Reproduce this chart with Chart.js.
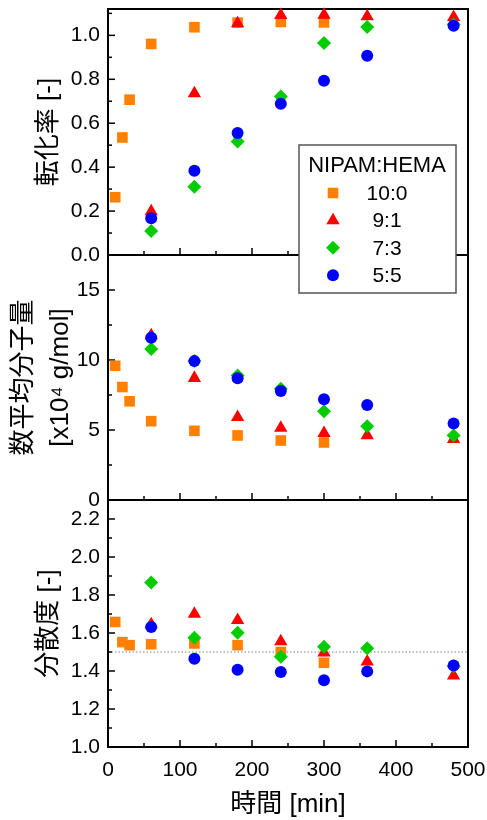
<!DOCTYPE html>
<html>
<head>
<meta charset="utf-8">
<script src="https://cdn.jsdelivr.net/npm/chart.js@4/dist/chart.umd.min.js"></script>
<style>
  html, body { margin: 0; padding: 0; background: #fff; }
  #wrap { width: 487px; height: 820px; }
</style>
</head>
<body>
<div id="wrap"><canvas id="chart-polymer" width="487" height="820"></canvas></div>
<script>
// Conversion / Mn / dispersity vs time, three stacked panels sharing the time axis
const times = [10, 20, 30, 60, 120, 180, 240, 300, 360, 480];
const seriesLabels = ['10:0', '9:1', '7:3', '5:5'];

// 転化率 [-]
const conv10_0 = [0.263, 0.535, 0.707, 0.961, 1.037, 1.058, 1.061, 1.059, null, null];
const conv9_1 = [null, null, null, 0.198, 0.736, 1.054, 1.092, 1.093, 1.086, 1.083];
const conv7_3 = [null, null, null, 0.109, 0.311, 0.517, 0.722, 0.965, 1.038, 1.05];
const conv5_5 = [null, null, null, 0.167, 0.384, 0.555, 0.689, 0.793, 0.907, 1.044];

// 数平均分子量 [x10^4 g/mol]
const mn10_0 = [9.59, 8.07, 7.05, 5.63, 4.94, 4.61, 4.25, 4.11, null, null];
const mn9_1 = [null, null, null, 11.75, 8.71, 5.92, 5.15, 4.77, 4.61, 4.35];
const mn7_3 = [null, null, null, 10.78, 9.92, 8.9, 7.95, 6.34, 5.27, 4.61];
const mn5_5 = [null, null, null, 11.59, 9.92, 8.69, 7.79, 7.19, 6.79, 5.46];

// 分散度 [-]
const pdi10_0 = [1.658, 1.552, 1.536, 1.541, 1.545, 1.536, 1.50, 1.443, null, null];
const pdi9_1 = [null, null, null, 1.645, 1.700, 1.668, 1.556, 1.496, 1.449, 1.375];
const pdi7_3 = [null, null, null, 1.866, 1.575, 1.601, 1.475, 1.527, 1.520, 1.425];
const pdi5_5 = [null, null, null, 1.631, 1.464, 1.407, 1.395, 1.351, 1.398, 1.429];

const refDispersity = 1.5;

const COLORS = ['#ff8000', '#ff0000', '#00cc00', '#0000ff'];
const STYLES = ['rect', 'triangle', 'rectRot', 'circle'];
const RADII = [7.5, 7.7, 7, 6];
const FONT = '"Liberation Sans", Arial, "Noto Sans CJK JP", sans-serif';

Chart.defaults.font.family = FONT;
Chart.defaults.color = '#000';

const panels = [
    { id: 'y1', series: [conv10_0, conv9_1, conv7_3, conv5_5] },
    { id: 'y2', series: [mn10_0, mn9_1, mn7_3, mn5_5] },
    { id: 'y3', series: [pdi10_0, pdi9_1, pdi7_3, pdi5_5] },
];

const datasets = [];
panels.forEach(p => {
    p.series.forEach((vals, i) => {
        datasets.push({
            label: seriesLabels[i],
            yAxisID: p.id,
            xAxisID: 'x',
            data: times.map((t, j) => (vals[j] == null ? null : { x: t, y: vals[j] })).filter(Boolean),
            pointStyle: STYLES[i],
            pointRadius: RADII[i],
            pointBackgroundColor: COLORS[i],
            pointBorderColor: COLORS[i],
            pointBorderWidth: 0,
            showLine: false,
            clip: false,
            order: 4 - i,
        });
    });
});

function line(ctx, x1, y1, x2, y2) {
    ctx.beginPath();
    ctx.moveTo(x1, y1);
    ctx.lineTo(x2, y2);
    ctx.stroke();
}

const framePlugin = {
    id: 'frame',
    beforeDatasetsDraw(chart) {
        const { ctx, chartArea: a, scales } = chart;
        const xs = scales.x;
        ctx.save();

        // reference line at dispersity 1.5
        const yRef = scales.y3.getPixelForValue(refDispersity);
        ctx.strokeStyle = '#808080';
        ctx.lineWidth = 1;
        ctx.setLineDash([1.5, 2]);
        line(ctx, a.left, yRef, a.right, yRef);
        ctx.setLineDash([]);

        ctx.strokeStyle = '#000';
        ctx.lineWidth = 1.5;
        const xv = xs.ticks.map(t => t.value);
        const xStep = xv[1] - xv[0];
        ['y1', 'y2', 'y3'].forEach(id => {
            const s = scales[id];
            const vals = s.ticks.map(t => t.value);
            const step = vals[1] - vals[0];
            vals.forEach(v => {
                const y = s.getPixelForValue(v);
                line(ctx, a.left, y, a.left + 7, y);
                const m = v + step / 2;
                if (m < s.max - 1e-9) {
                    const ym = s.getPixelForValue(m);
                    line(ctx, a.left, ym, a.left + 4, ym);
                }
            });
            xv.forEach(v => {
                if (v > xs.min && v < xs.max) {
                    const x = xs.getPixelForValue(v);
                    line(ctx, x, s.bottom, x, s.bottom - 7);
                }
                const m = v + xStep / 2;
                if (m < xs.max) {
                    const xm = xs.getPixelForValue(m);
                    line(ctx, xm, s.bottom, xm, s.bottom - 4);
                }
            });
        });

        ctx.lineWidth = 2;
        ctx.strokeRect(a.left, a.top, a.right - a.left, a.bottom - a.top);
        line(ctx, a.left, scales.y1.bottom, a.right, scales.y1.bottom);
        line(ctx, a.left, scales.y2.bottom, a.right, scales.y2.bottom);
        ctx.restore();
    },
};

const legendPlugin = {
    id: 'boxLegend',
    afterDatasetsDraw(chart) {
        const { ctx, chartArea: a } = chart;
        const left = a.right - 169, top = a.top + 136, w = 157, h = 148;
        ctx.save();
        ctx.fillStyle = '#fff';
        ctx.fillRect(left, top, w, h);
        ctx.strokeStyle = '#555';
        ctx.lineWidth = 1.5;
        ctx.strokeRect(left, top, w, h);

        ctx.fillStyle = '#000';
        ctx.textAlign = 'center';
        ctx.textBaseline = 'middle';
        ctx.font = `22px ${FONT}`;
        ctx.fillText('NIPAM:HEMA', left + 78, top + 21);

        ctx.font = `21px ${FONT}`;
        seriesLabels.forEach((lab, i) => {
            const y = top + 48 + i * 27.4;
            ctx.fillStyle = COLORS[i];
            Chart.helpers.drawPoint(ctx, { pointStyle: STYLES[i], radius: RADII[i], rotation: 0, borderWidth: 0 }, left + 34, y);
            ctx.fillStyle = '#000';
            ctx.fillText(lab, left + 88, y + 1);
        });
        ctx.restore();
    },
};

const yCommon = {
    type: 'linear',
    position: 'left',
    stack: 'panels',
    offset: false,
    grid: { display: false, drawTicks: false },
    border: { display: false },
    afterFit: s => {
        s.width = 108;
        s.paddingTop = 0;
        s.paddingBottom = 0;
    },
};

new Chart(document.getElementById('chart-polymer').getContext('2d'), {
    type: 'scatter',
    data: { datasets },
    options: {
        responsive: false,
        animation: false,
        events: [],
        layout: { padding: { left: 0, right: 19, top: 9, bottom: 0 } },
        plugins: { legend: { display: false }, tooltip: { enabled: false } },
        scales: {
            x: {
                type: 'linear',
                position: 'bottom',
                min: 0,
                max: 500,
                grid: { display: false, drawTicks: false },
                border: { display: false },
                ticks: { stepSize: 100, padding: 11, font: { size: 21 }, color: '#000' },
                title: { display: true, text: '時間 [min]', font: { size: 26 }, color: '#000', padding: { top: 0, bottom: 0 } },
                afterFit: s => {
                    s.height = 73;
                    s.paddingLeft = 0;
                    s.paddingRight = 0;
                },
            },
            y1: {
                ...yCommon,
                weight: 3,
                stackWeight: 246,
                min: 0,
                max: 1.12,
                ticks: { stepSize: 0.2, autoSkip: false, includeBounds: false, padding: 8, font: { size: 21 }, color: '#000', callback: v => v.toFixed(1) },
                title: { display: true, text: '転化率 [-]', font: { size: 26 }, color: '#000', padding: { top: 33, bottom: 0 } },
            },
            y2: {
                ...yCommon,
                weight: 2,
                stackWeight: 245,
                min: 0,
                max: 17.5,
                ticks: { stepSize: 5, autoSkip: false, includeBounds: false, padding: 8, font: { size: 21 }, color: '#000' },
                title: { display: true, text: ['数平均分子量', '[x10⁴ g/mol]'], font: { size: 26, lineHeight: 1.4 }, color: '#000', padding: { top: 6, bottom: 0 } },
            },
            y3: {
                ...yCommon,
                weight: 1,
                stackWeight: 247,
                min: 1,
                max: 2.3,
                ticks: { stepSize: 0.2, autoSkip: false, includeBounds: false, padding: 8, font: { size: 21 }, color: '#000', callback: v => v.toFixed(1) },
                title: { display: true, text: '分散度 [-]', font: { size: 26 }, color: '#000', padding: { top: 33, bottom: 0 } },
            },
        },
    },
    plugins: [framePlugin, legendPlugin],
});
</script>
</body>
</html>
